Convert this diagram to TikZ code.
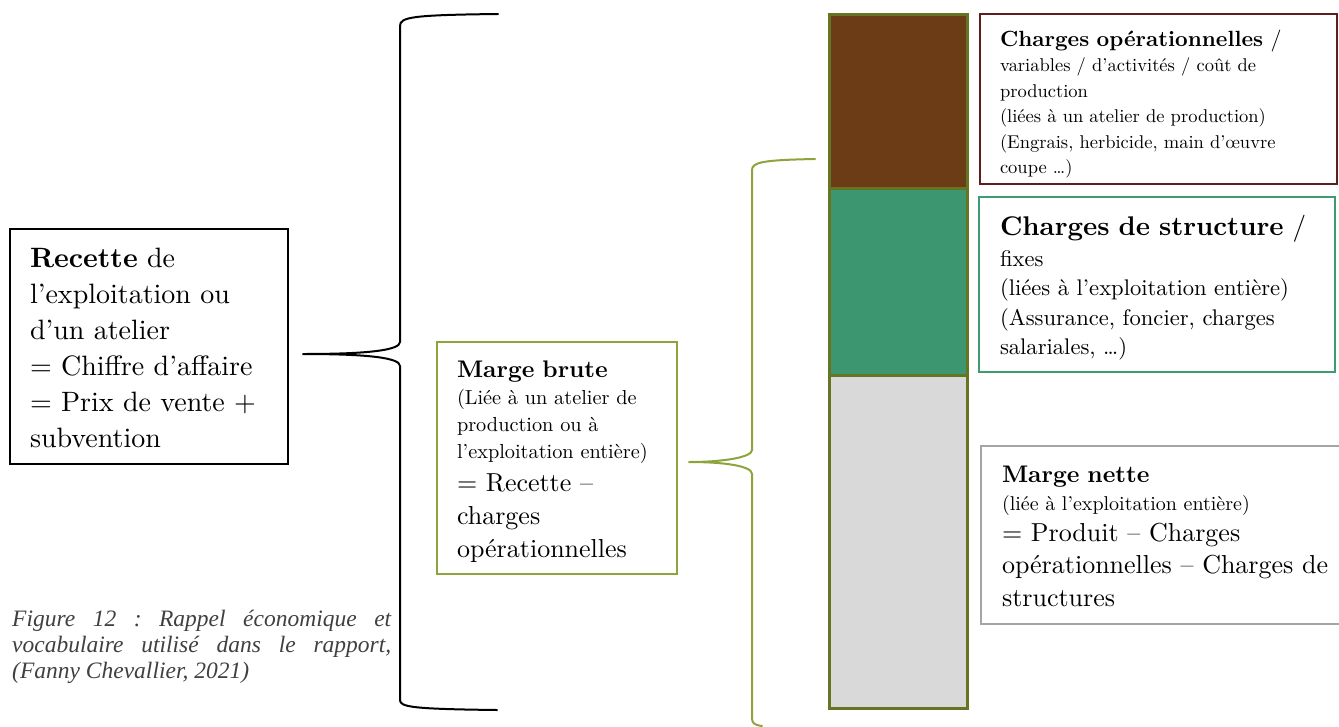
\documentclass[tikz,border=0pt]{standalone}
\usepackage{fontspec}
\setmainfont{lmroman10-regular.otf}[BoldFont=lmroman10-bold.otf,ItalicFont=lmroman10-italic.otf]
\newfontfamily\capfont{Liberation Serif}
\newcommand{\fs}[2]{\fontsize{#1pt}{#2pt}\selectfont\spaceskip=0.333em plus 0.1em minus 0.05em\relax}
\definecolor{brownc}{HTML}{6B3C15}
\definecolor{greenc}{HTML}{3C9670}
\definecolor{grayc}{HTML}{D9D9D9}
\definecolor{olivec}{HTML}{667522}
\definecolor{opborder}{HTML}{5E1E1E}
\definecolor{stborder}{HTML}{3E9C71}
\definecolor{ntborder}{HTML}{A5A5A5}
\definecolor{brborder}{HTML}{8DA33B}
\definecolor{capcol}{HTML}{404040}
\tikzset{
  box/.style={draw, rectangle, anchor=north west, inner sep=0pt, outer sep=0pt, fill=white},
  colseg/.style={draw=olivec, line width=3pt, rectangle, anchor=north west, inner sep=0pt, outer sep=0pt, minimum width=138pt},
  txt/.style={anchor=base west, inner sep=0pt, outer sep=0pt, text width=420pt, align=left},
  brace/.style={line width=2pt, line join=round, line cap=round}
}
\begin{document}
\begin{tikzpicture}[x=1pt,y=-1pt]
\useasboundingbox (0,0) rectangle (1339,726);
% column
\node[colseg, fill=brownc, minimum height=174pt] (c1) at (829,14) {};
\node[colseg, fill=greenc, minimum height=187pt] (c2) at (829,188) {};
\node[colseg, fill=grayc, minimum height=333pt] (c3) at (829,375) {};
% boxes
\node[box, line width=2pt, minimum width=278pt, minimum height=235pt] (rec) at (10,229) {};
\node[box, draw=brborder, line width=2pt, minimum width=240pt, minimum height=232pt] (brute) at (437,342) {};
\node[box, draw=opborder, line width=2pt, minimum width=357pt, minimum height=170pt] (op) at (980,14) {};
\node[box, draw=stborder, line width=2pt, minimum width=356pt, minimum height=175pt] (st) at (979,197) {};
\node[box, draw=ntborder, line width=2pt, minimum width=365pt, minimum height=178pt] (nt) at (981,446) {};
% texts
\node[txt] (rect) at (30,267) {\fs{28}{36}\textbf{Recette} de\par l’exploitation ou\par d’un atelier\par = Chiffre d’affaire\par = Prix de vente +\par subvention\par};
\node[txt] (brutet) at (457,377) {\fs{24}{28}\textbf{Marge brute}\par
  \fs{20.3}{27}(Liée à un atelier de\par production ou à\par l’exploitation entière)\par
  \fs{26}{33}= Recette –\par charges\par opérationnelles\par};
\node[txt] (opt) at (1000,46) {\fs{22}{26}\textbf{Charges opérationnelles} /\par
  \fs{18.5}{25.5}variables / d’activités / coût de\par production\par (liées à un atelier de production)\par (Engrais, herbicide, main d’œuvre\par coupe …)\par};
\node[txt] (stt) at (1000,235) {\fs{27}{30}\textbf{Charges de structure} /\par
  \fs{22.6}{31}fixes\par \fs{22.6}{29.5}(liées à l’exploitation entière)\par (Assurance, foncier, charges\par salariales, …)\par};
\node[txt] (ntt) at (1002,482) {\fs{24}{28}\textbf{Marge nette}\par
  \fs{20}{28}(liée à l’exploitation entière)\par
  \fs{26}{31}= Produit – Charges\par \fs{26}{32.5}opérationnelles – Charges de\par structures\par};
% caption
\node[anchor=base west, inner sep=0pt, text width=379pt, align=justify, text=capcol] (cap) at (12,626)
  {\capfont\itshape\frenchspacing\fontsize{23.5pt}{26pt}\selectfont\spaceskip=0.25em plus 1em minus 0.05em\relax
   Figure 12 : Rappel économique et\linebreak vocabulaire utilisé dans le rapport,\linebreak (Fanny Chevallier, 2021)\par};
% braces
\coordinate (btip) at (303,354);
\coordinate (gtip) at (689,462);
\draw[brace] (498,14) .. controls (412,15) and (400,17) .. (400,26) -- (400,342)
  .. controls (400,350) and (370,354) .. (btip)
  .. controls (370,354) and (400,358) .. (400,366) -- (400,700)
  .. controls (400,707) and (412,709) .. (497,710);
\draw[brace, draw=brborder] (815,159) .. controls (764,160) and (752,162) .. (752,170) -- (752,450)
  .. controls (752,457) and (725,462) .. (gtip)
  .. controls (725,462) and (752,466) .. (752,474) -- (752,718)
  .. controls (752,723) and (754,725) .. (762,726);
\end{tikzpicture}
\end{document}
